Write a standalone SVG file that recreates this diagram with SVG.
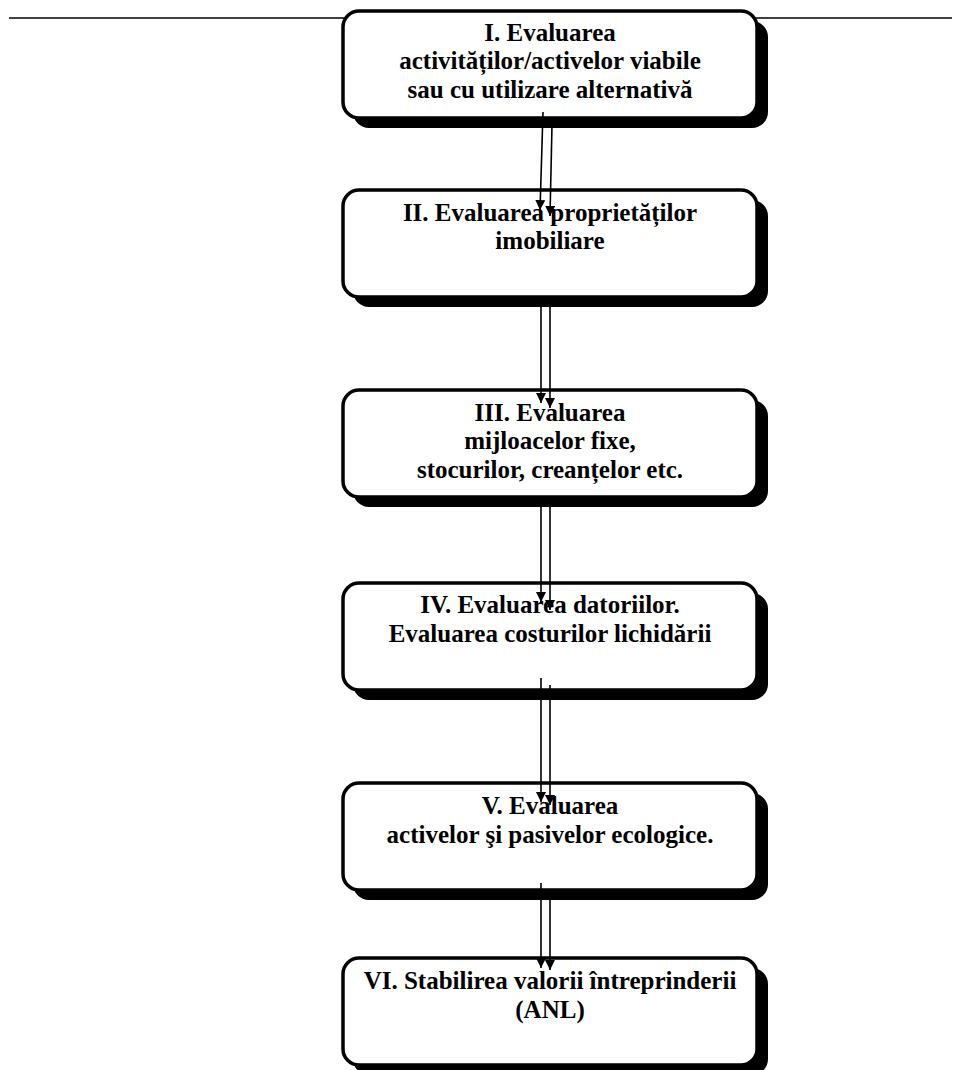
<svg xmlns="http://www.w3.org/2000/svg" width="954" height="1070" viewBox="0 0 954 1070">
<style>
.shadow{fill:#000;}
.box{fill:#fff;stroke:#000;stroke-width:3.5;}
.t{font-family:"Liberation Serif","Times New Roman",serif;font-weight:bold;font-size:25px;fill:#000;text-anchor:middle;}
.c{stroke:#000;stroke-width:1.6;fill:none;marker-end:url(#ah);}
</style>
<defs>
<marker id="ah" markerUnits="userSpaceOnUse" markerWidth="10" markerHeight="10" refX="10" refY="5" orient="auto">
<path d="M0,0 L10,5 L0,10 Z" fill="#000"/>
</marker>
</defs>
<rect x="0" y="0" width="954" height="1070" fill="#fff"/>
<line x1="9" y1="18" x2="952" y2="18" stroke="#000" stroke-width="1.6"/>
<g id="n1">
<rect class="shadow" x="353" y="21" width="415" height="107" rx="16"/>
<rect class="box" x="343" y="11" width="414" height="107" rx="16"/>
<text class="t" x="550" y="41">I. Evaluarea</text>
<text class="t" x="550" y="69">activităților/activelor viabile</text>
<text class="t" x="550" y="98">sau cu utilizare alternativă</text>
</g>
<g id="n2">
<rect class="shadow" x="353" y="200" width="415" height="107" rx="16"/>
<rect class="box" x="343" y="190" width="414" height="107" rx="16"/>
<text class="t" x="550" y="221">II. Evaluarea proprietăților</text>
<text class="t" x="550" y="249">imobiliare</text>
</g>
<g id="n3">
<rect class="shadow" x="353" y="400" width="415" height="107" rx="16"/>
<rect class="box" x="343" y="390" width="414" height="107" rx="16"/>
<text class="t" x="550" y="421">III. Evaluarea</text>
<text class="t" x="550" y="449">mijloacelor fixe,</text>
<text class="t" x="550" y="478">stocurilor, creanțelor etc.</text>
</g>
<g id="n4">
<rect class="shadow" x="353" y="593" width="415" height="107" rx="16"/>
<rect class="box" x="343" y="583" width="414" height="107" rx="16"/>
<text class="t" x="550" y="613">IV. Evaluarea datoriilor.</text>
<text class="t" x="550" y="642">Evaluarea costurilor lichidării</text>
</g>
<g id="n5">
<rect class="shadow" x="353" y="793" width="415" height="107" rx="16"/>
<rect class="box" x="343" y="783" width="414" height="107" rx="16"/>
<text class="t" x="550" y="814">V. Evaluarea</text>
<text class="t" x="550" y="843">activelor şi pasivelor ecologice.</text>
</g>
<g id="n6">
<rect class="shadow" x="353" y="968" width="415" height="107" rx="16"/>
<rect class="box" x="343" y="958" width="414" height="107" rx="16"/>
<text class="t" x="550" y="989">VI. Stabilirea valorii întreprinderii</text>
<text class="t" x="550" y="1018">(ANL)</text>
</g>
<g id="connectors">
<line class="c" x1="543" y1="112" x2="540" y2="210"/>
<line class="c" x1="552" y1="125" x2="550" y2="216"/>
<line class="c" x1="541" y1="297" x2="541" y2="403"/>
<line class="c" x1="550" y1="307" x2="550" y2="408"/>
<line class="c" x1="541" y1="497" x2="541" y2="602"/>
<line class="c" x1="550" y1="507" x2="550" y2="610"/>
<line class="c" x1="541" y1="678" x2="541" y2="802"/>
<line class="c" x1="550" y1="685" x2="550" y2="805"/>
<line class="c" x1="541" y1="883" x2="541" y2="968"/>
<line class="c" x1="550" y1="889" x2="550" y2="970"/>
</g>
</svg>
